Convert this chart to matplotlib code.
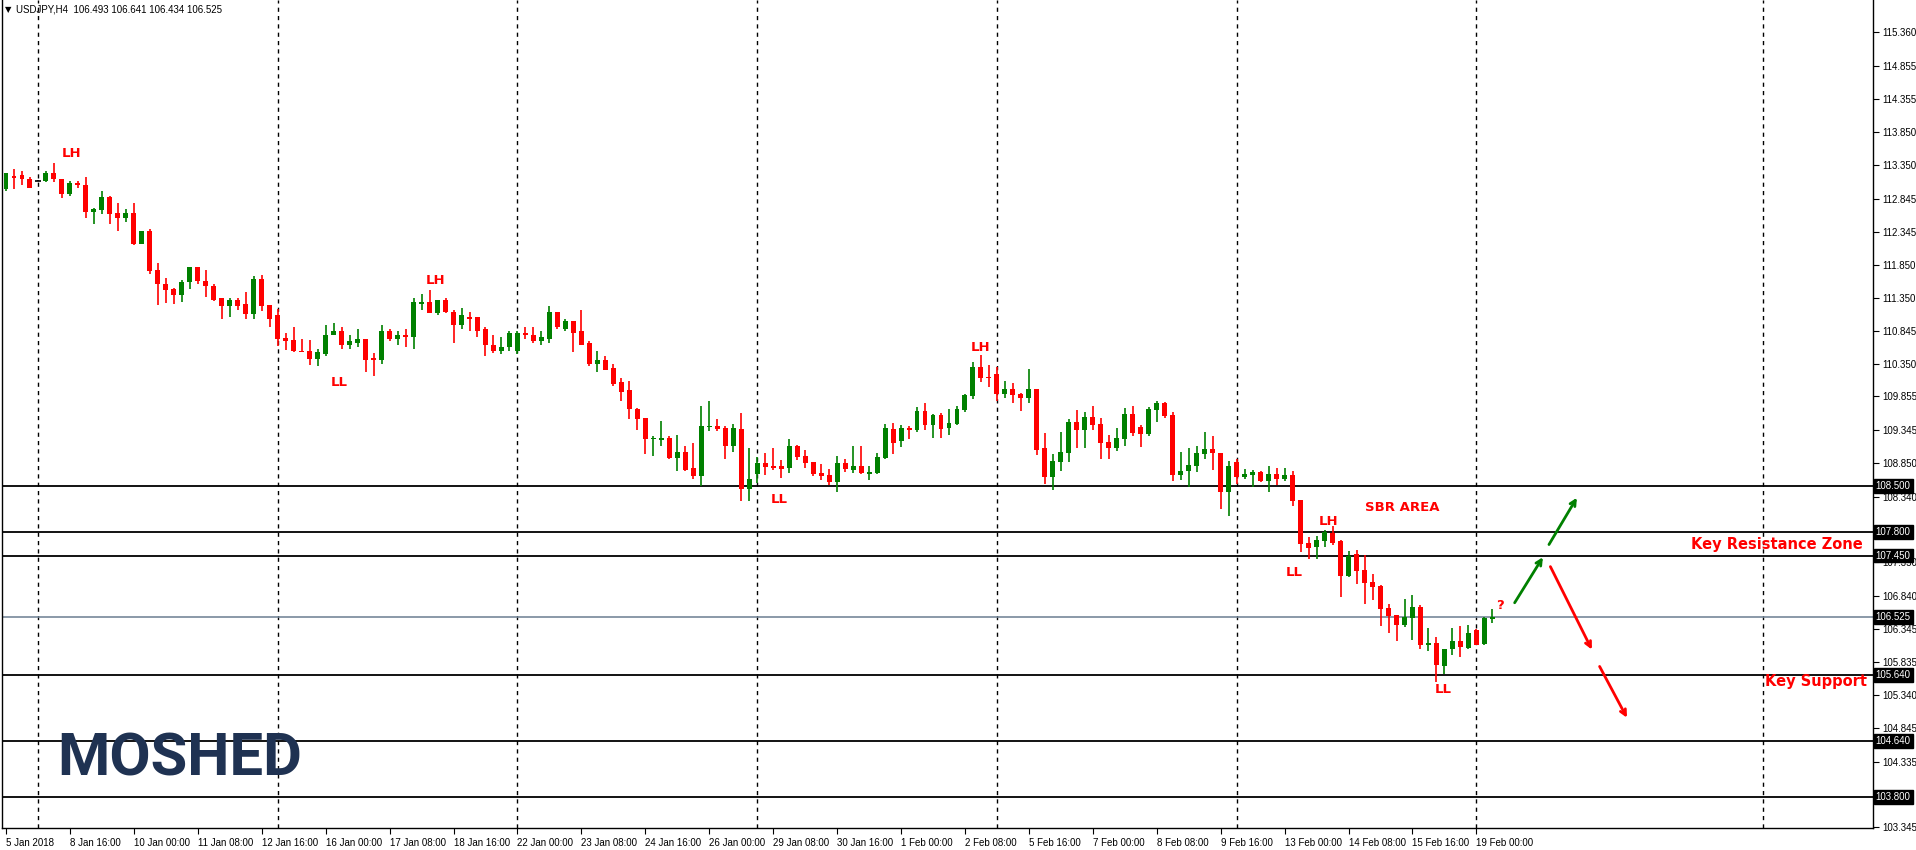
import matplotlib
matplotlib.use("Agg")
import matplotlib.pyplot as plt

opens = [112.99,113.19,113.20,113.15,113.12,113.11,113.23,113.15,112.91,113.08,
 113.06,112.64,112.67,112.87,112.63,112.55,112.63,112.16,112.35,111.76,
 111.56,111.48,111.39,111.58,111.81,111.60,111.53,111.34,111.22,111.32,
 111.25,111.10,111.63,111.24,111.08,110.74,110.71,110.55,110.55,110.42,
 110.49,110.78,110.85,110.64,110.67,110.73,110.44,110.40,110.85,110.72,
 110.78,110.75,111.25,111.28,111.11,111.31,111.13,110.94,111.06,111.05,
 110.88,110.64,110.55,110.60,110.54,110.81,110.79,110.69,110.72,111.13,
 110.88,110.99,110.84,110.66,110.35,110.41,110.28,110.07,109.95,109.66,
 109.53,109.21,109.20,109.23,108.92,109.01,108.77,108.65,109.39,109.41,
 109.38,109.11,109.36,108.46,108.68,108.85,108.80,108.80,108.77,109.11,
 108.95,108.86,108.70,108.67,108.56,108.85,108.74,108.80,108.68,108.70,
 108.92,109.36,109.18,109.38,109.35,109.63,109.42,109.57,109.38,109.44,
 109.65,109.86,110.30,110.15,110.19,109.89,109.97,109.89,109.83,109.97,
 109.07,108.64,108.86,109.00,109.47,109.35,109.54,109.44,109.17,109.07,
 109.21,109.59,109.39,109.29,109.65,109.76,109.57,108.67,108.73,108.80,
 108.98,109.06,109.00,108.41,108.86,108.63,108.67,108.71,108.58,108.68,
 108.61,108.67,108.29,107.64,107.58,107.67,107.79,107.67,107.14,107.47,
 107.23,107.05,106.99,106.65,106.55,106.40,106.51,106.67,106.10,106.13,
 105.78,106.03,106.16,106.05,106.32,106.11,106.493]
highs = [113.24,113.30,113.26,113.18,113.13,113.26,113.38,113.15,113.12,113.12,
 113.17,112.71,112.96,112.88,112.78,112.69,112.78,112.35,112.38,111.88,
 111.64,111.50,111.61,111.82,111.82,111.76,111.56,111.35,111.34,111.34,
 111.43,111.67,111.69,111.24,111.18,110.81,110.90,110.72,110.71,110.57,
 110.94,110.97,110.91,110.79,110.88,110.73,110.51,110.93,110.87,110.84,
 110.87,111.34,111.40,111.47,111.32,111.35,111.17,111.20,111.13,111.05,
 110.91,110.78,110.75,110.84,110.84,110.90,110.91,110.85,111.22,111.13,
 111.02,110.99,111.17,110.70,110.55,110.47,110.34,110.13,110.09,109.68,
 109.53,109.26,109.48,109.26,109.27,109.11,109.15,109.71,109.79,109.51,
 109.41,109.44,109.60,109.07,108.94,109.00,109.07,108.89,109.21,109.12,
 109.04,108.86,108.83,108.76,108.95,108.91,109.11,109.11,108.80,109.00,
 109.44,109.45,109.42,109.41,109.70,109.76,109.59,109.60,109.66,109.71,
 109.89,110.38,110.48,110.33,110.30,110.09,110.06,109.91,110.27,109.97,
 109.30,108.98,109.32,109.51,109.65,109.62,109.71,109.53,109.27,109.38,
 109.68,109.71,109.42,109.70,109.79,109.77,109.62,109.01,109.07,109.11,
 109.32,109.26,109.00,108.88,108.91,108.76,108.74,108.73,108.80,108.77,
 108.77,108.73,108.29,107.73,107.74,107.83,107.89,107.69,107.52,107.53,
 107.46,107.17,107.01,106.72,106.55,106.79,106.85,106.70,106.35,106.22,
 106.04,106.35,106.38,106.40,106.34,106.52,106.641]
lows = [112.96,112.99,113.06,113.00,113.11,113.10,113.10,112.85,112.89,113.00,
 112.56,112.47,112.61,112.47,112.35,112.50,112.14,112.16,111.70,111.24,
 111.27,111.26,111.28,111.48,111.55,111.36,111.30,111.02,111.05,111.16,
 111.02,111.02,111.14,110.90,110.62,110.56,110.52,110.52,110.33,110.32,
 110.46,110.78,110.58,110.58,110.61,110.23,110.17,110.35,110.70,110.63,
 110.60,110.58,111.17,111.11,111.08,111.11,110.67,110.87,110.84,110.76,
 110.47,110.51,110.49,110.55,110.49,110.73,110.67,110.64,110.67,110.88,
 110.84,110.52,110.63,110.31,110.23,110.25,110.02,109.78,109.52,109.35,
 108.98,108.96,109.11,108.91,108.73,108.73,108.61,108.50,109.33,109.33,
 108.91,109.01,108.27,108.27,108.55,108.67,108.74,108.62,108.70,108.89,
 108.77,108.66,108.59,108.52,108.41,108.71,108.70,108.68,108.59,108.68,
 108.91,108.98,109.09,109.21,109.32,109.35,109.23,109.23,109.27,109.42,
 109.62,109.82,110.07,110.00,109.79,109.83,109.76,109.63,109.76,108.97,
 108.53,108.44,108.73,108.86,109.07,109.07,109.35,108.91,108.91,109.03,
 109.11,109.26,109.09,109.26,109.47,109.53,108.58,108.59,108.49,108.71,
 108.91,108.74,108.15,108.05,108.53,108.61,108.49,108.56,108.41,108.52,
 108.58,108.20,107.51,107.40,107.39,107.58,107.61,106.83,107.13,107.02,
 106.71,106.78,106.39,106.28,106.16,106.37,106.18,106.03,106.01,105.54,
 105.66,105.95,105.92,106.04,106.10,106.10,106.434]
closes = [113.23,113.16,113.14,113.00,113.12,113.23,113.14,112.91,113.08,113.05,
 112.64,112.69,112.87,112.61,112.56,112.63,112.16,112.35,111.75,111.55,
 111.47,111.39,111.58,111.81,111.60,111.52,111.32,111.23,111.32,111.22,
 111.10,111.63,111.22,111.02,110.72,110.70,110.54,110.53,110.42,110.52,
 110.79,110.85,110.64,110.69,110.73,110.41,110.40,110.85,110.72,110.78,
 110.75,111.28,111.28,111.11,111.31,111.13,110.94,111.08,111.03,110.85,
 110.63,110.55,110.61,110.81,110.81,110.78,110.69,110.75,111.13,110.90,
 110.99,110.82,110.64,110.35,110.41,110.26,110.05,109.93,109.66,109.51,
 109.21,109.23,109.23,108.92,109.01,108.74,108.65,109.41,109.41,109.36,
 109.11,109.38,108.46,108.61,108.85,108.79,108.77,108.76,109.11,108.94,
 108.85,108.68,108.66,108.56,108.85,108.76,108.80,108.70,108.71,108.94,
 109.38,109.15,109.38,109.35,109.63,109.42,109.57,109.36,109.45,109.66,
 109.88,110.30,110.13,110.13,109.89,109.97,109.88,109.83,109.97,109.04,
 108.64,108.88,109.01,109.47,109.35,109.54,109.42,109.15,109.07,109.23,
 109.59,109.30,109.29,109.66,109.76,109.56,108.67,108.73,108.82,109.00,
 109.06,109.00,108.41,108.80,108.64,108.69,108.71,108.58,108.68,108.61,
 108.67,108.28,107.63,107.57,107.68,107.80,107.64,107.14,107.45,107.22,
 107.04,106.98,106.64,106.54,106.40,106.52,106.67,106.10,106.13,105.79,
 106.04,106.16,106.06,106.28,106.10,106.50,106.525]

xtick_labels = ["5 Jan 2018","8 Jan 16:00","10 Jan 00:00","11 Jan 08:00","12 Jan 16:00",
 "16 Jan 00:00","17 Jan 08:00","18 Jan 16:00","22 Jan 00:00","23 Jan 08:00","24 Jan 16:00",
 "26 Jan 00:00","29 Jan 08:00","30 Jan 16:00","1 Feb 00:00","2 Feb 08:00","5 Feb 16:00",
 "7 Feb 00:00","8 Feb 08:00","9 Feb 16:00","13 Feb 00:00","14 Feb 08:00","15 Feb 16:00",
 "19 Feb 00:00"]
ytick_values = [115.360,114.855,114.355,113.850,113.350,112.845,112.345,111.850,111.350,
 110.845,110.350,109.855,109.345,108.850,108.340,107.350,106.840,106.345,105.835,105.340,
 104.845,104.335,103.345]
level_lines = [108.500,107.800,107.450,105.640,104.640,103.800]
bid_price = 106.525
week_starts = [4,34,64,94,124,154,184,219.875]

labels = [("LH",8.2,113.53),("LL",41.7,110.06),("LH",53.8,111.61),("LL",96.8,108.30),
          ("LH",122,110.59),("LL",161.25,107.20),("LH",165.5,107.97),("LL",179.9,105.43),
          ("SBR AREA",174.75,108.17),("?",187,106.69)]

AX = "Liberation Sans"
W, H = 1916, 850
fig = plt.figure(figsize=(W/100, H/100), dpi=100)
ax = fig.add_axes([2/W, 22/H, (1873-2)/W, 828/H])
ax.set_xlim(-0.5, 233.625)
ax.set_ylim(103.33, 115.85)

RED, GRN = "#ff0000", "#008000"
n = len(closes)
for i in range(n):
    o, h, l, c = opens[i], highs[i], lows[i], closes[i]
    col = GRN if c > o else (RED if c < o else "black")
    ax.vlines(i, l, h, color=col, lw=1.2, zorder=3)
    if abs(c - o) < 0.005:
        ax.hlines(c, i-0.35, i+0.35, color=col, lw=1.2, zorder=3)
    else:
        ax.bar(i, abs(c-o), bottom=min(o, c), width=0.62, color=col, lw=0, zorder=3)

for w in week_starts:
    ax.axvline(w, color="black", lw=1, ls=(0, (3, 3)), zorder=1)
for lv in level_lines:
    ax.axhline(lv, color="black", lw=1.3, zorder=2)
ax.axhline(bid_price, color="#778899", lw=1.2, zorder=2)

for t, x, y in labels:
    ax.text(x, y, t, color="red", fontsize=9.5, fontweight="bold", ha="center", va="center", zorder=5)
ax.text(232.4, 107.62, "Key Resistance Zone", color="red", fontsize=10.5, fontweight="bold", ha="right", va="center")
ax.text(232.9, 105.55, "Key Support", color="red", fontsize=10.5, fontweight="bold", ha="right", va="center")

def arrow(p0, p1, col):
    ax.annotate("", xy=p1, xytext=p0,
                arrowprops=dict(arrowstyle="->", color=col, lw=2, mutation_scale=10), zorder=6)
arrow((188.6, 106.70), (192.5, 107.46), GRN)
arrow((192.9, 107.58), (196.75, 108.36), GRN)
arrow((193.1, 107.32), (198.6, 105.99), RED)
arrow((199.25, 105.81), (203.0, 104.96), RED)

ax.spines["top"].set_visible(False)
for s in ["left", "right", "bottom"]:
    ax.spines[s].set_color("black")
    ax.spines[s].set_linewidth(1)
ax.yaxis.tick_right()
ax.set_yticks(ytick_values)
ax.set_yticklabels([f"{v:.3f}" for v in ytick_values], family=AX, fontsize=7)
ax.tick_params(axis="y", direction="out", length=4, pad=3)
ax.set_xticks([8*i for i in range(len(xtick_labels))])
ax.set_xticklabels(xtick_labels, ha="left", family=AX, fontsize=7)
ax.tick_params(axis="x", direction="out", length=4, pad=3)

trans = ax.get_yaxis_transform()
for v in level_lines + [bid_price]:
    ax.text(1.0015, v, f"{v:.3f}", transform=trans, fontsize=7, family=AX, color="white", ha="left", va="center",
            bbox=dict(boxstyle="square,pad=0.2", fc="black", ec="black"), zorder=10, clip_on=False)

fig.text(5/W, 1-10/H, "\u25bc", fontsize=6, va="center", ha="left")
fig.text(16/W, 1-10/H, "USDJPY,H4  106.493 106.641 106.434 106.525", fontsize=7, family=AX, va="center", ha="left")
fig.text(57/W, 1-759/H, "MOSHED", fontsize=43, fontweight="bold", color="#1f3252", va="center", ha="left",
         family="Roboto")

fig.savefig("out.png", dpi=100)
